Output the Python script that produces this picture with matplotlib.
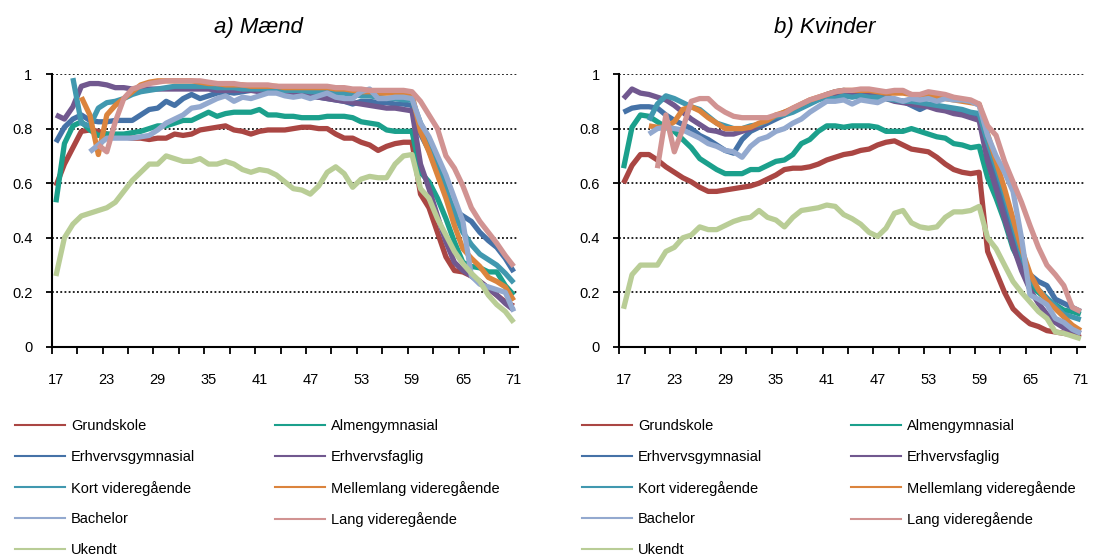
import numpy as np
import matplotlib
matplotlib.use("Agg")
import matplotlib.pyplot as plt
from matplotlib.lines import Line2D
from matplotlib.ticker import FixedLocator, FuncFormatter

plt.rcParams['font.family'] = ['Liberation Sans', 'DejaVu Sans']

nan = np.nan
ages = list(range(17, 72))
x_labels = list(range(17, 72, 6))
y_ticks = [0, 0.2, 0.4, 0.6, 0.8, 1.0]

names = ["Grundskole", "Almengymnasial", "Erhvervsgymnasial", "Erhvervsfaglig",
         "Kort videregående", "Mellemlang videregående", "Bachelor",
         "Lang videregående", "Ukendt"]
colors = ["#AA4643", "#1BA08C", "#4572A7", "#71588F", "#4198AF",
          "#DB843D", "#93A9CF", "#D19392", "#B9CD96"]

# ---------------- a) Mænd ----------------
m_grundskole = [0.59, 0.67, 0.73, 0.79, 0.795, 0.79, 0.78, 0.775, 0.77, 0.765,
                0.765, 0.76, 0.765, 0.765, 0.78, 0.775, 0.78, 0.795, 0.80, 0.805,
                0.81, 0.795, 0.79, 0.78, 0.79, 0.795, 0.795, 0.795, 0.80, 0.805,
                0.805, 0.80, 0.80, 0.78, 0.765, 0.765, 0.75, 0.74, 0.72, 0.735,
                0.745, 0.75, 0.75, 0.56, 0.51, 0.42, 0.33, 0.28, 0.275, 0.26,
                0.24, 0.215, 0.19, 0.165, 0.15]
m_almen = [0.53, 0.745, 0.81, 0.825, 0.795, 0.775, 0.78, 0.78, 0.78, 0.785,
           0.79, 0.80, 0.81, 0.81, 0.82, 0.83, 0.83, 0.845, 0.86, 0.845,
           0.855, 0.86, 0.86, 0.86, 0.87, 0.85, 0.85, 0.845, 0.845, 0.84,
           0.84, 0.84, 0.845, 0.845, 0.845, 0.84, 0.825, 0.82, 0.815, 0.795,
           0.79, 0.79, 0.79, 0.64, 0.605, 0.545, 0.47, 0.385, 0.31, 0.295,
           0.29, 0.275, 0.275, 0.225, 0.19]
m_erhvgym = [0.75, 0.805, 0.835, 0.85, 0.83, 0.825, 0.825, 0.83, 0.83, 0.83,
             0.85, 0.87, 0.875, 0.90, 0.885, 0.91, 0.925, 0.91, 0.92, 0.93,
             0.935, 0.93, 0.935, 0.94, 0.94, 0.94, 0.935, 0.935, 0.93, 0.925,
             0.92, 0.915, 0.91, 0.905, 0.90, 0.89, 0.90, 0.90, 0.895, 0.895,
             0.89, 0.89, 0.885, 0.78, 0.72, 0.64, 0.56, 0.50, 0.48, 0.46,
             0.42, 0.39, 0.365, 0.325, 0.275]
m_erhvfag = [0.85, 0.835, 0.88, 0.955, 0.965, 0.965, 0.96, 0.95, 0.95, 0.945,
             0.945, 0.945, 0.945, 0.945, 0.945, 0.945, 0.945, 0.945, 0.945, 0.94,
             0.94, 0.94, 0.94, 0.94, 0.935, 0.935, 0.935, 0.93, 0.93, 0.925,
             0.92, 0.915, 0.91, 0.905, 0.90, 0.895, 0.89, 0.885, 0.88, 0.875,
             0.875, 0.87, 0.865, 0.67, 0.58, 0.48, 0.385, 0.31, 0.28, 0.26,
             0.24, 0.215, 0.19, 0.16, 0.135]
m_kort = [nan, nan, 0.985, 0.82, 0.81, 0.875, 0.895, 0.90, 0.91, 0.925,
          0.935, 0.94, 0.945, 0.95, 0.955, 0.955, 0.955, 0.955, 0.955, 0.95,
          0.95, 0.95, 0.945, 0.945, 0.945, 0.945, 0.94, 0.94, 0.94, 0.94,
          0.935, 0.935, 0.935, 0.93, 0.93, 0.925, 0.92, 0.92, 0.915, 0.91,
          0.91, 0.905, 0.905, 0.82, 0.76, 0.68, 0.58, 0.49, 0.42, 0.375,
          0.34, 0.32, 0.30, 0.27, 0.235]
m_mellem = [nan, nan, nan, 0.915, 0.85, 0.705, 0.85, 0.885, 0.91, 0.935,
            0.96, 0.97, 0.975, 0.975, 0.975, 0.975, 0.975, 0.97, 0.965, 0.965,
            0.96, 0.96, 0.96, 0.955, 0.955, 0.955, 0.955, 0.95, 0.95, 0.95,
            0.95, 0.95, 0.95, 0.945, 0.945, 0.94, 0.935, 0.935, 0.93, 0.93,
            0.93, 0.93, 0.925, 0.79, 0.715, 0.63, 0.545, 0.445, 0.36, 0.325,
            0.295, 0.255, 0.24, 0.22, 0.17]
m_bachelor = [nan, nan, nan, nan, 0.715, 0.74, 0.765, 0.765, 0.765, 0.765,
              0.77, 0.775, 0.795, 0.82, 0.835, 0.85, 0.875, 0.88, 0.895, 0.91,
              0.92, 0.90, 0.915, 0.91, 0.92, 0.93, 0.93, 0.92, 0.915, 0.92,
              0.91, 0.92, 0.93, 0.915, 0.91, 0.91, 0.935, 0.945, 0.91, 0.91,
              0.915, 0.915, 0.91, 0.82, 0.77, 0.70, 0.63, 0.545, 0.46, 0.26,
              0.23, 0.22, 0.21, 0.20, 0.13]
m_lang = [nan, nan, nan, nan, nan, 0.74, 0.715, 0.825, 0.91, 0.945,
          0.955, 0.965, 0.97, 0.975, 0.975, 0.975, 0.975, 0.975, 0.97, 0.965,
          0.965, 0.965, 0.96, 0.96, 0.96, 0.96, 0.955, 0.955, 0.955, 0.955,
          0.955, 0.955, 0.955, 0.95, 0.95, 0.945, 0.945, 0.94, 0.94, 0.94,
          0.94, 0.94, 0.935, 0.90, 0.85, 0.80, 0.70, 0.655, 0.59, 0.51,
          0.46, 0.42, 0.38, 0.335, 0.295]
m_ukendt = [0.26, 0.40, 0.45, 0.48, 0.49, 0.50, 0.51, 0.53, 0.57, 0.61,
            0.64, 0.67, 0.67, 0.70, 0.69, 0.68, 0.68, 0.69, 0.67, 0.67,
            0.68, 0.67, 0.65, 0.64, 0.65, 0.645, 0.63, 0.605, 0.58, 0.575,
            0.56, 0.59, 0.64, 0.66, 0.635, 0.585, 0.615, 0.625, 0.62, 0.62,
            0.67, 0.70, 0.705, 0.58, 0.545, 0.47, 0.41, 0.35, 0.305, 0.27,
            0.24, 0.19, 0.155, 0.13, 0.09]

# ---------------- b) Kvinder ----------------
k_grundskole = [0.60, 0.665, 0.705, 0.705, 0.685, 0.66, 0.64, 0.62, 0.605, 0.585,
                0.57, 0.57, 0.575, 0.58, 0.585, 0.59, 0.60, 0.615, 0.63, 0.65,
                0.655, 0.655, 0.66, 0.67, 0.685, 0.695, 0.705, 0.71, 0.72, 0.725,
                0.74, 0.75, 0.755, 0.74, 0.725, 0.72, 0.715, 0.695, 0.67, 0.65,
                0.64, 0.635, 0.64, 0.35, 0.275, 0.20, 0.14, 0.11, 0.085, 0.075,
                0.06, 0.055, 0.05, 0.045, 0.035]
k_almen = [0.655, 0.805, 0.85, 0.845, 0.825, 0.805, 0.79, 0.76, 0.73, 0.69,
           0.67, 0.65, 0.635, 0.635, 0.635, 0.65, 0.65, 0.665, 0.68, 0.685,
           0.705, 0.745, 0.76, 0.79, 0.81, 0.81, 0.805, 0.81, 0.81, 0.81,
           0.805, 0.79, 0.79, 0.79, 0.80, 0.79, 0.78, 0.77, 0.765, 0.745,
           0.74, 0.73, 0.735, 0.62, 0.545, 0.46, 0.36, 0.30, 0.225, 0.20,
           0.175, 0.155, 0.135, 0.13, 0.12]
k_erhvgym = [0.86, 0.875, 0.88, 0.88, 0.875, 0.85, 0.83, 0.815, 0.80, 0.775,
             0.76, 0.74, 0.72, 0.71, 0.76, 0.79, 0.805, 0.82, 0.835, 0.85,
             0.87, 0.88, 0.90, 0.91, 0.925, 0.935, 0.94, 0.935, 0.93, 0.93,
             0.925, 0.92, 0.905, 0.90, 0.885, 0.87, 0.885, 0.885, 0.87, 0.865,
             0.86, 0.855, 0.85, 0.72, 0.62, 0.52, 0.41, 0.31, 0.265, 0.24,
             0.225, 0.175, 0.16, 0.145, 0.13]
k_erhvfag = [0.91, 0.945, 0.93, 0.925, 0.915, 0.905, 0.885, 0.86, 0.835, 0.815,
             0.795, 0.79, 0.78, 0.78, 0.79, 0.80, 0.81, 0.83, 0.845, 0.86,
             0.87, 0.88, 0.90, 0.91, 0.915, 0.92, 0.92, 0.925, 0.92, 0.925,
             0.92, 0.91, 0.90, 0.895, 0.89, 0.885, 0.88, 0.87, 0.865, 0.855,
             0.85, 0.84, 0.83, 0.68, 0.58, 0.47, 0.37, 0.28, 0.21, 0.16,
             0.12, 0.09, 0.07, 0.06, 0.05]
k_kort = [nan, nan, nan, 0.83, 0.89, 0.92, 0.91, 0.895, 0.88, 0.87,
          0.845, 0.82, 0.81, 0.80, 0.80, 0.81, 0.815, 0.83, 0.845, 0.85,
          0.86, 0.875, 0.89, 0.905, 0.915, 0.91, 0.92, 0.915, 0.92, 0.915,
          0.915, 0.91, 0.905, 0.90, 0.90, 0.895, 0.89, 0.885, 0.88, 0.875,
          0.87, 0.86, 0.855, 0.75, 0.66, 0.56, 0.45, 0.34, 0.25, 0.21,
          0.18, 0.15, 0.12, 0.11, 0.10]
k_mellem = [nan, nan, nan, 0.81, 0.805, 0.805, 0.825, 0.87, 0.88, 0.865,
            0.84, 0.82, 0.80, 0.80, 0.80, 0.805, 0.82, 0.83, 0.85, 0.86,
            0.875, 0.89, 0.905, 0.915, 0.925, 0.935, 0.94, 0.94, 0.94, 0.94,
            0.935, 0.93, 0.93, 0.93, 0.925, 0.92, 0.92, 0.915, 0.91, 0.905,
            0.90, 0.895, 0.89, 0.78, 0.68, 0.58, 0.47, 0.36, 0.27, 0.21,
            0.17, 0.14, 0.11, 0.08, 0.06]
k_bachelor = [nan, nan, nan, 0.78, 0.80, 0.805, 0.80, 0.795, 0.78, 0.765,
              0.745, 0.735, 0.72, 0.715, 0.695, 0.735, 0.76, 0.77, 0.79, 0.80,
              0.82, 0.835, 0.86, 0.88, 0.90, 0.90, 0.905, 0.89, 0.905, 0.90,
              0.895, 0.91, 0.91, 0.90, 0.91, 0.905, 0.91, 0.90, 0.91, 0.905,
              0.905, 0.90, 0.885, 0.775, 0.70, 0.64, 0.57, 0.40, 0.19, 0.175,
              0.155, 0.105, 0.09, 0.065, 0.05]
k_lang = [nan, nan, nan, nan, 0.655, 0.85, 0.715, 0.80, 0.90, 0.91,
          0.91, 0.88, 0.86, 0.845, 0.84, 0.84, 0.84, 0.84, 0.85, 0.855,
          0.875, 0.89, 0.905, 0.915, 0.925, 0.935, 0.94, 0.94, 0.945, 0.945,
          0.94, 0.935, 0.94, 0.94, 0.925, 0.925, 0.935, 0.93, 0.925, 0.915,
          0.91, 0.905, 0.89, 0.81, 0.775, 0.68, 0.605, 0.53, 0.445, 0.365,
          0.30, 0.265, 0.225, 0.145, 0.13]
k_ukendt = [0.14, 0.265, 0.30, 0.30, 0.30, 0.35, 0.365, 0.40, 0.41, 0.44,
            0.43, 0.43, 0.445, 0.46, 0.47, 0.475, 0.50, 0.475, 0.465, 0.44,
            0.475, 0.50, 0.505, 0.51, 0.52, 0.515, 0.485, 0.47, 0.45, 0.42,
            0.405, 0.435, 0.49, 0.50, 0.455, 0.44, 0.435, 0.44, 0.475, 0.495,
            0.495, 0.50, 0.515, 0.40, 0.36, 0.30, 0.24, 0.20, 0.165, 0.13,
            0.105, 0.055, 0.05, 0.04, 0.03]

men = [m_grundskole, m_almen, m_erhvgym, m_erhvfag, m_kort, m_mellem,
       m_bachelor, m_lang, m_ukendt]
women = [k_grundskole, k_almen, k_erhvgym, k_erhvfag, k_kort, k_mellem,
         k_bachelor, k_lang, k_ukendt]

W, H = 1093, 556
fig = plt.figure(figsize=(W / 100, H / 100), dpi=100)

def fx(px):
    return px / W

def fy(py):
    return 1 - py / H

panels = [
    (men, "a) Mænd", 51.7, 518.0, 258),
    (women, "b) Kvinder", 619.3, 1085.0, 825),
]

for data, title, x0, x1, tx in panels:
    ax = fig.add_axes([fx(x0), fy(347), (x1 - x0) / W, (347 - 74) / H])
    for vals, col in zip(data, colors):
        ax.plot(ages, vals, color=col, lw=3.8, solid_capstyle='butt',
                solid_joinstyle='round', clip_on=False)
    ax.set_xlim(16.5, 71.5)
    ax.set_ylim(0, 1)
    ax.set_axisbelow(True)
    ax.yaxis.grid(True, color='black', linestyle=(0, (1.1, 1.4)), lw=1.2)
    for s in ['top', 'right']:
        ax.spines[s].set_visible(False)
    for s in ['left', 'bottom']:
        ax.spines[s].set_linewidth(1.5)
        ax.spines[s].set_color('black')
    ax.set_yticks(y_ticks)
    ax.yaxis.set_major_formatter(FuncFormatter(lambda v, p: f"{v:g}"))
    ax.tick_params(axis='y', length=4, width=1.3, pad=10, labelsize=10.5,
                   direction='out')
    ax.set_xticks(x_labels)
    ax.set_xticklabels([str(v) for v in x_labels])
    ax.xaxis.set_minor_locator(FixedLocator(np.arange(16.5, 71.5, 3)))
    ax.tick_params(axis='x', which='major', length=0, pad=19, labelsize=10.5)
    ax.tick_params(axis='x', which='minor', length=5, width=1.3, direction='out')
    fig.text(fx(tx), fy(28), title, ha='center', va='center', fontsize=16,
             style='italic')

handles = [Line2D([0], [0], color=c, lw=1.5) for c in colors]

legend_cols = [
    (15, [0, 2, 4, 6, 8]), (275, [1, 3, 5, 7]),
    (582, [0, 2, 4, 6, 8]), (851, [1, 3, 5, 7]),
]
for lx, idx in legend_cols:
    fig.legend([handles[i] for i in idx], [names[i] for i in idx],
               loc='upper left', bbox_to_anchor=(fx(lx), fy(419)),
               frameon=False, fontsize=10.5, handlelength=3.4,
               handletextpad=0.45, labelspacing=1.15, borderpad=0,
               borderaxespad=0)

fig.savefig("out.png", dpi=100)
